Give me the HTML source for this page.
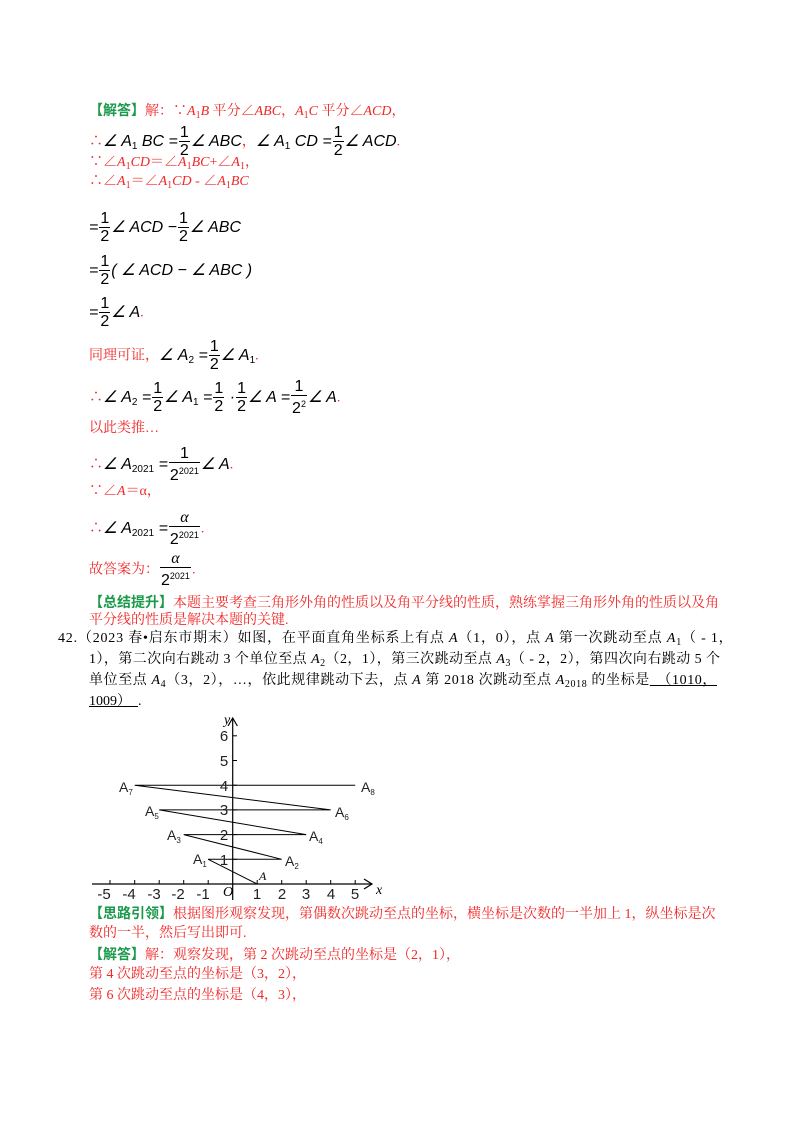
<!DOCTYPE html>
<html><head><meta charset="utf-8"><style>
body{margin:0;background:#fff;}
#p{position:relative;width:800px;height:1132px;overflow:hidden;font-family:"Liberation Serif","Noto Serif CJK SC",serif;font-size:14px;color:#000;}
.r{position:absolute;left:89px;height:30px;line-height:30px;white-space:nowrap;}
.red{color:#f02828;}
.g{color:#1a9a4a;font-weight:bold;font-family:"Noto Sans CJK SC",sans-serif;}
.m{font-family:"Liberation Sans",sans-serif;font-style:italic;font-size:16px;color:#000;}
.m i{font-style:normal}
.fr{display:inline-block;vertical-align:middle;text-align:center;font-style:normal;font-family:"Liberation Sans",sans-serif;font-size:16px;margin:0 1px;}
.fr span{display:block;line-height:17px;padding:0 1px;}
.fr .n{border-bottom:1px solid #000;}
.fr.a .n{font-family:"Liberation Serif",serif;font-style:italic;}
sub{font-size:10px;vertical-align:-3px;font-style:normal}
sup{font-size:9px;vertical-align:6px}
.t{position:absolute;white-space:nowrap;line-height:20px;}
u{text-decoration:underline;}
</style></head><body><div id="p">
<div class="r red" style="top:95px"><span class="g">【解答】</span>解：∵<i>A</i><sub>1</sub><i>B</i> 平分∠<i>ABC</i>，<i>A</i><sub>1</sub><i>C</i> 平分∠<i>ACD</i>，</div>
<div class="r red" style="top:124px">∴<span class="m">∠ A<sub>1</sub> BC =<span class="fr"><span class="n">1</span><span>2</span></span>∠ ABC</span>，<span class="m">∠ A<sub>1</sub> CD =<span class="fr"><span class="n">1</span><span>2</span></span>∠ ACD</span>.</div>
<div class="r red" style="top:148px">∵∠<i>A</i><sub>1</sub><i>CD</i>＝∠<i>A</i><sub>1</sub><i>BC</i>+∠<i>A</i><sub>1</sub>，</div>
<div class="r red" style="top:167px">∴∠<i>A</i><sub>1</sub>＝∠<i>A</i><sub>1</sub><i>CD</i> - ∠<i>A</i><sub>1</sub><i>BC</i></div>
<div class="r" style="top:210px"><span class="m">=<span class="fr"><span class="n">1</span><span>2</span></span>∠ ACD −<span class="fr"><span class="n">1</span><span>2</span></span>∠ ABC</span></div>
<div class="r" style="top:253px"><span class="m">=<span class="fr"><span class="n">1</span><span>2</span></span>( ∠ ACD − ∠ ABC )</span></div>
<div class="r red" style="top:295px"><span class="m">=<span class="fr"><span class="n">1</span><span>2</span></span>∠ A</span>.</div>
<div class="r red" style="top:338px">同理可证，<span class="m">∠ A<sub>2</sub> =<span class="fr"><span class="n">1</span><span>2</span></span>∠ A<sub>1</sub></span>.</div>
<div class="r red" style="top:378px">∴<span class="m">∠ A<sub>2</sub> =<span class="fr"><span class="n">1</span><span>2</span></span>∠ A<sub>1</sub> =<span class="fr"><span class="n">1</span><span>2</span></span> ·<span class="fr"><span class="n">1</span><span>2</span></span>∠ A =<span class="fr"><span class="n">1</span><span>2<sup>2</sup></span></span>∠ A</span>.</div>
<div class="r red" style="top:414px">以此类推…</div>
<div class="r red" style="top:445px">∴<span class="m">∠ A<sub>2021</sub> =<span class="fr"><span class="n">1</span><span>2<sup>2021</sup></span></span>∠ A</span>.</div>
<div class="r red" style="top:477px">∵∠<i>A</i>＝α，</div>
<div class="r red" style="top:509px">∴<span class="m">∠ A<sub>2021</sub> =<span class="fr a"><span class="n">α</span><span>2<sup>2021</sup></span></span></span>.</div>
<div class="r red" style="top:550px">故答案为：<span class="m"><span class="fr a"><span class="n">α</span><span>2<sup>2021</sup></span></span></span>.</div>
<div class="t red" style="left:89px;top:592px"><span class="g">【总结提升】</span>本题主要考查三角形外角的性质以及角平分线的性质，熟练掌握三角形外角的性质以及角</div>
<div class="t red" style="left:89px;top:611px">平分线的性质是解决本题的关键.</div>
<div class="t" style="left:58px;top:629px;letter-spacing:0.8px">42.（2023 春•启东市期末）如图，在平面直角坐标系上有点 <i>A</i>（1，0），点 <i>A</i> 第一次跳动至点 <i>A</i><sub>1</sub>（ - 1，</div>
<div class="t" style="left:89px;top:650px;letter-spacing:0.45px">1），第二次向右跳动 3 个单位至点 <i>A</i><sub>2</sub>（2，1），第三次跳动至点 <i>A</i><sub>3</sub>（ - 2，2），第四次向右跳动 5 个</div>
<div class="t" style="left:89px;top:671px;letter-spacing:0.6px">单位至点 <i>A</i><sub>4</sub>（3，2），…，依此规律跳动下去，点 <i>A</i> 第 2018 次跳动至点 <i>A</i><sub>2018</sub> 的坐标是<u>　（1010，</u></div>
<div class="t" style="left:89px;top:692px"><u>1009）　</u>.</div>
<svg style="position:absolute;left:0;top:0" width="800" height="1132" font-family="Liberation Sans,sans-serif" font-size="15">
<g stroke="#000" stroke-width="1.2" fill="none">
<line x1="92" y1="884" x2="372" y2="884"/><polyline points="364,879 372,884 364,889"/>
<line x1="232.7" y1="900" x2="232.7" y2="718"/><polyline points="228,726 232.7,718 237.4,726"/>
<g stroke-width="1">
<line x1="110" y1="884" x2="110" y2="880"/><line x1="134.7" y1="884" x2="134.7" y2="880"/><line x1="159.2" y1="884" x2="159.2" y2="880"/><line x1="183.7" y1="884" x2="183.7" y2="880"/><line x1="208.2" y1="884" x2="208.2" y2="880"/><line x1="257.2" y1="884" x2="257.2" y2="880"/><line x1="281.7" y1="884" x2="281.7" y2="880"/><line x1="306.2" y1="884" x2="306.2" y2="880"/><line x1="330.7" y1="884" x2="330.7" y2="880"/><line x1="355.2" y1="884" x2="355.2" y2="880"/>
<line x1="232.7" y1="859.3" x2="237" y2="859.3"/><line x1="232.7" y1="834.6" x2="237" y2="834.6"/><line x1="232.7" y1="809.9" x2="237" y2="809.9"/><line x1="232.7" y1="785.2" x2="237" y2="785.2"/><line x1="232.7" y1="760.5" x2="237" y2="760.5"/><line x1="232.7" y1="735.8" x2="237" y2="735.8"/>
</g>
<polyline stroke-width="1" points="257.2,884 208.2,859.3 281.7,859.3 183.7,834.6 306.2,834.6 159.2,809.9 330.7,809.9 134.7,785.2 355.2,785.2"/>
</g>
<g fill="#222" text-anchor="middle">
<text x="104" y="899">-5</text><text x="129" y="899">-4</text><text x="154" y="899">-3</text><text x="178" y="899">-2</text><text x="203" y="899">-1</text><text x="257" y="899">1</text><text x="282" y="899">2</text><text x="306" y="899">3</text><text x="331" y="899">4</text><text x="355" y="899">5</text>
<text x="224" y="865">1</text><text x="224" y="840">2</text><text x="224" y="815">3</text><text x="224" y="791">4</text><text x="224" y="766">5</text><text x="224" y="741">6</text>
</g>
<g font-family="Liberation Serif,serif" font-style="italic" font-size="14">
<text x="223" y="896">O</text><text x="376" y="894">x</text><text x="224" y="724">y</text><text x="259" y="880" font-size="12">A</text>
</g>
<g font-size="14" fill="#222">
<text x="193" y="864">A<tspan font-size="8" dy="3">1</tspan></text>
<text x="285" y="866">A<tspan font-size="8" dy="3">2</tspan></text>
<text x="167" y="840">A<tspan font-size="8" dy="3">3</tspan></text>
<text x="309" y="841">A<tspan font-size="8" dy="3">4</tspan></text>
<text x="145" y="816">A<tspan font-size="8" dy="3">5</tspan></text>
<text x="335" y="817">A<tspan font-size="8" dy="3">6</tspan></text>
<text x="119" y="792">A<tspan font-size="8" dy="3">7</tspan></text>
<text x="361" y="792">A<tspan font-size="8" dy="3">8</tspan></text>
</g>
</svg>
<div class="t red" style="left:89px;top:903px"><span class="g">【思路引领】</span>根据图形观察发现，第偶数次跳动至点的坐标，横坐标是次数的一半加上 1，纵坐标是次</div>
<div class="t red" style="left:89px;top:924px">数的一半，然后写出即可.</div>
<div class="t red" style="left:89px;top:944px"><span class="g">【解答】</span>解：观察发现，第 2 次跳动至点的坐标是（2，1），</div>
<div class="t red" style="left:89px;top:965px">第 4 次跳动至点的坐标是（3，2），</div>
<div class="t red" style="left:89px;top:986px">第 6 次跳动至点的坐标是（4，3），</div>
</div></body></html>
